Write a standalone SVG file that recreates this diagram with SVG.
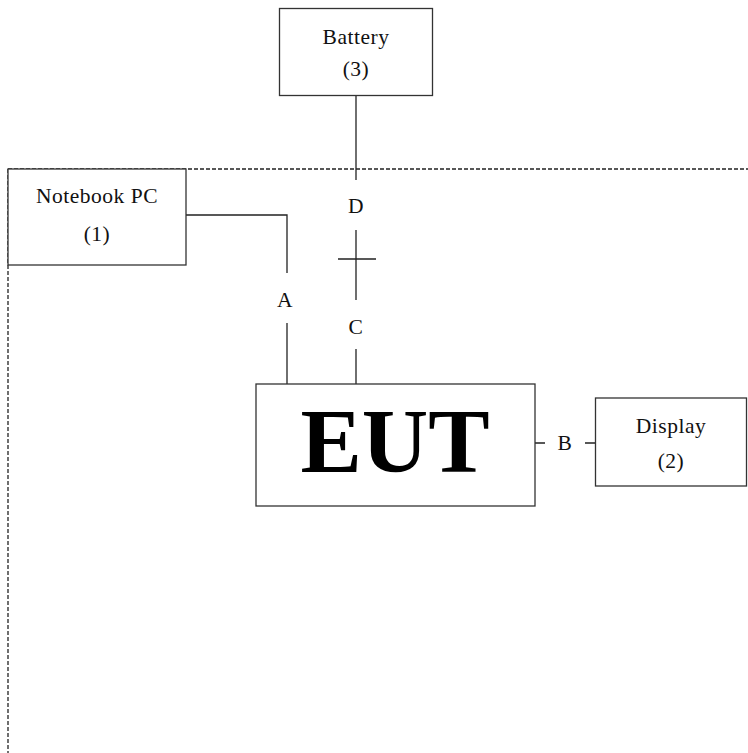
<svg xmlns="http://www.w3.org/2000/svg" width="748" height="753" viewBox="0 0 748 753">
<style>
.box{fill:#fff;stroke:#333;stroke-width:1.3}
.ln{stroke:#222;stroke-width:1.3;fill:none}
.dash{stroke:#222;stroke-width:1.3;fill:none;stroke-dasharray:4 2}
.t{font-family:"Liberation Serif",serif;font-size:21.5px;letter-spacing:0.5px;fill:#111;text-anchor:middle}
.big{font-family:"Liberation Serif",serif;font-size:92px;font-weight:bold;fill:#000;text-anchor:middle}
</style>
<rect width="748" height="753" fill="#fff"/>
<g id="boundary">
<path class="dash" d="M8 169 H748 M8 169 V753"/>
</g>
<g id="connectors">
<path class="ln" d="M356 96 V180"/>
<path class="ln" d="M186 215 H287 V273"/>
<path class="ln" d="M287 323 V384"/>
<path class="ln" d="M356 230 V300 M338 259 H376"/>
<path class="ln" d="M356 349 V384"/>
<path class="ln" d="M535 443 H545 M585 443 H596"/>
<text class="t" x="356" y="213">D</text>
<text class="t" x="285" y="307">A</text>
<text class="t" x="356" y="334">C</text>
<text class="t" x="565" y="450">B</text>
</g>
<g id="battery">
<rect class="box" x="279.5" y="8.5" width="153" height="87"/>
<text class="t" x="356" y="44">Battery</text>
<text class="t" x="356" y="76">(3)</text>
</g>
<g id="notebook">
<rect class="box" x="8" y="169" width="178" height="96"/>
<text class="t" x="97" y="203">Notebook PC</text>
<text class="t" x="97" y="241">(1)</text>
</g>
<g id="eut">
<rect class="box" x="256" y="384" width="279" height="122"/>
<text class="big" x="395" y="472">EUT</text>
</g>
<g id="display">
<rect class="box" x="595.5" y="398" width="151" height="88"/>
<text class="t" x="671" y="433">Display</text>
<text class="t" x="671" y="468">(2)</text>
</g>
</svg>
